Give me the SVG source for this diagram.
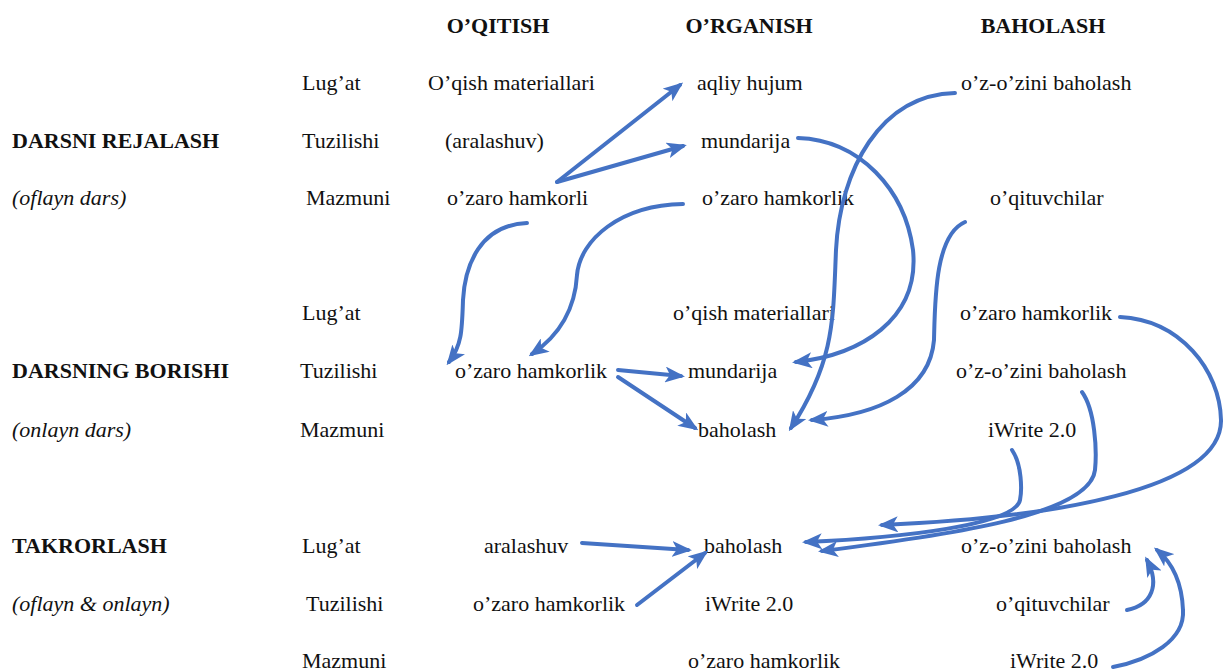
<svg xmlns="http://www.w3.org/2000/svg" width="1223" height="672" viewBox="0 0 1223 672">
<style>
text{font-family:"Liberation Serif","Times New Roman",Tinos,"DejaVu Serif",serif;font-size:22px;fill:#111}
.h{font-weight:bold}
.i{font-style:italic}
.c{fill:none;stroke:#4472C4;stroke-width:4;stroke-linecap:round}
</style>
<defs>
<marker id="ah" viewBox="0 0 10 8" refX="8" refY="4" markerWidth="5" markerHeight="4" orient="auto">
<path d="M0,0 L10,4 L0,8 L2.5,4 Z" fill="#4472C4"/>
</marker>
</defs>
<rect width="1223" height="672" fill="#fff"/>
<g id="headers">
<text class="h" x="498" y="33" text-anchor="middle">O’QITISH</text>
<text class="h" x="749" y="33" text-anchor="middle">O’RGANISH</text>
<text class="h" x="1043" y="33" text-anchor="middle">BAHOLASH</text>
</g>
<g id="sections">
<text class="h" x="12" y="148">DARSNI REJALASH</text>
<text class="i" x="12" y="205">(oflayn dars)</text>
<text class="h" x="12" y="378">DARSNING BORISHI</text>
<text class="i" x="12" y="437">(onlayn dars)</text>
<text class="h" x="12" y="553">TAKRORLASH</text>
<text class="i" x="12" y="611">(oflayn &amp; onlayn)</text>
</g>
<g id="aspects">
<text x="302" y="90">Lug’at</text>
<text x="302" y="148">Tuzilishi</text>
<text x="306" y="205">Mazmuni</text>
<text x="302" y="320">Lug’at</text>
<text x="300" y="378">Tuzilishi</text>
<text x="300" y="437">Mazmuni</text>
<text x="302" y="553">Lug’at</text>
<text x="306" y="611">Tuzilishi</text>
<text x="302" y="668">Mazmuni</text>
</g>
<g id="n1"><text x="428" y="90">O’qish materiallari</text></g>
<g id="n2"><text x="697" y="90">aqliy hujum</text></g>
<g id="n3"><text x="961" y="90">o’z-o’zini baholash</text></g>
<g id="n4"><text x="445" y="148">(aralashuv)</text></g>
<g id="n5"><text x="701" y="148">mundarija</text></g>
<g id="n6"><text x="447" y="205">o’zaro hamkorli</text></g>
<g id="n7"><text x="702" y="205">o’zaro hamkorlik</text></g>
<g id="n8"><text x="990" y="205">o’qituvchilar</text></g>
<g id="n9"><text x="673" y="320">o’qish materiallari</text></g>
<g id="n10"><text x="960" y="320">o’zaro hamkorlik</text></g>
<g id="n11"><text x="455" y="378">o’zaro hamkorlik</text></g>
<g id="n12"><text x="688" y="378">mundarija</text></g>
<g id="n13"><text x="956" y="378">o’z-o’zini baholash</text></g>
<g id="n14"><text x="698" y="437">baholash</text></g>
<g id="n15"><text x="988" y="437">iWrite 2.0</text></g>
<g id="n16"><text x="484" y="553">aralashuv</text></g>
<g id="n17"><text x="704" y="553">baholash</text></g>
<g id="n18"><text x="961" y="553">o’z-o’zini baholash</text></g>
<g id="n19"><text x="473" y="611">o’zaro hamkorlik</text></g>
<g id="n20"><text x="705" y="611">iWrite 2.0</text></g>
<g id="n21"><text x="996" y="611">o’qituvchilar</text></g>
<g id="n22"><text x="688" y="668">o’zaro hamkorlik</text></g>
<g id="n23"><text x="1010" y="668">iWrite 2.0</text></g>
<g id="connectors">
<path class="c" marker-end="url(#ah)" d="M557,182 L680,85"/>
<path class="c" marker-end="url(#ah)" d="M557,182 L683,146"/>
<path class="c" marker-end="url(#ah)" d="M798,138 C860,140 905,190 913,250 C920,320 860,355 796,362"/>
<path class="c" marker-end="url(#ah)" d="M955,93 C880,95 840,170 836,250 C833,320 835,360 791,428"/>
<path class="c" marker-end="url(#ah)" d="M965,222 C935,235 935,300 934,340 C930,390 880,415 812,420"/>
<path class="c" marker-end="url(#ah)" d="M527,223 C480,225 465,265 463,300 C462,330 462,345 449,362"/>
<path class="c" marker-end="url(#ah)" d="M683,204 C620,205 580,240 577,275 C575,310 560,335 532,354"/>
<path class="c" marker-end="url(#ah)" d="M618,370 L681,376"/>
<path class="c" marker-end="url(#ah)" d="M618,377 L695,428"/>
<path class="c" marker-end="url(#ah)" d="M1120,317 C1180,320 1220,370 1221,420 C1222,490 1050,518 882,525"/>
<path class="c" marker-end="url(#ah)" d="M1082,392 C1095,410 1097,450 1095,470 C1090,515 950,535 822,551"/>
<path class="c" marker-end="url(#ah)" d="M1012,450 C1022,465 1022,490 1020,500 C1015,525 900,538 806,542"/>
<path class="c" marker-end="url(#ah)" d="M582,543 L688,550"/>
<path class="c" marker-end="url(#ah)" d="M637,605 L705,553"/>
<path class="c" marker-end="url(#ah)" d="M1127,610 C1152,605 1160,585 1147,560"/>
<path class="c" marker-end="url(#ah)" d="M1113,667 C1150,660 1185,640 1183,610 C1182,585 1175,565 1157,550"/>
</g>
</svg>
